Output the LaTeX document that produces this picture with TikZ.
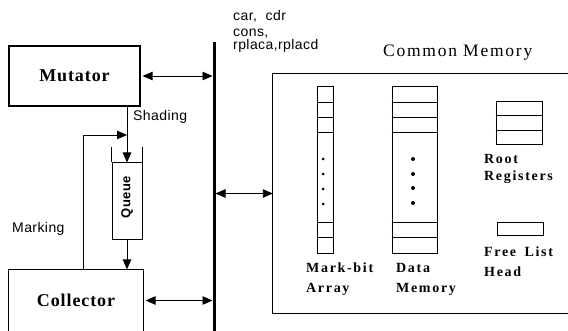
\documentclass[tikz,border=0pt]{standalone}
\usepackage{fontspec}
\setmainfont{Liberation Serif}
\setsansfont{Liberation Sans}
\newfontfamily\spacedserif[LetterSpace=12]{Liberation Serif}
\newfontfamily\titleserif[LetterSpace=10]{Liberation Serif}
\newfontfamily\boxserif[LetterSpace=5]{Liberation Serif}
\newfontfamily\spacedsans[LetterSpace=3]{Liberation Sans}
\usetikzlibrary{arrows.meta}
\begin{document}
\begin{tikzpicture}[x=1pt,y=-1pt,
  blk/.style={draw, line width=1.2pt, inner sep=0pt, font=\boxserif\bfseries\fontsize{18}{20}\selectfont},
  cell/.style={draw, line width=1pt, inner sep=0pt},
  conn/.style={line width=0.9pt},
  arr/.style={conn,-{Triangle[length=10pt,width=8.5pt]}},
  dbl/.style={conn,{Triangle[length=10pt,width=8.5pt]}-{Triangle[length=10pt,width=8.5pt]}},
  sans/.style={font=\spacedsans\fontsize{14}{16}\selectfont, inner sep=0pt, anchor=base west},
  lab/.style={font=\spacedserif\bfseries\fontsize{14}{16}\selectfont, inner sep=0pt, anchor=base west},
]
\useasboundingbox (0,0) rectangle (568,331);

% left blocks
\node[blk, minimum width=131pt, minimum height=60pt] (mut) at (74.5,76) {Mutator};
\node[blk, draw=none, minimum width=134pt, minimum height=61pt] (coll) at (76,300.5) {Collector};
\draw[line width=1.2pt] (coll.south west) |- (coll.north east) -- (coll.south east);

% bus
\coordinate (bustop) at (214,42);
\coordinate (busbot) at (214,331);
\draw[line width=3pt] (bustop) -- (busbot);

% queue
\node[cell, minimum width=30pt, minimum height=77pt] (queue) at (127,201.5) {};
\draw[line width=1pt] (queue.north west) -- ++(0,-15);
\draw[line width=1pt] (queue.north east) -- ++(0,-15);
\node[font=\spacedsans\bfseries\fontsize{13}{15}\selectfont, rotate=90, inner sep=0pt] (qlab) at (127,197) {Queue};

% memory frame
\node[inner sep=0pt, minimum width=295pt, minimum height=239pt] (mem) at (420.5,193.5) {};
\draw[line width=1.2pt] (mem.north east) -- (mem.north west) -- (mem.south west) -- (mem.south east);
\node[font=\titleserif\fontsize{17.5}{19}\selectfont, anchor=base west, inner sep=0pt] (title) at (383,57) {Common Memory};

% connectors
\coordinate (markx) at (83,135);
\coordinate (shadejoin) at (127,135);
\draw[arr] (coll.north -| markx) |- (shadejoin);
\draw[arr] (mut.south -| queue.north) -- (queue.north);
\draw[arr] (queue.south) -- (queue.south |- coll.north);
\draw[dbl, shorten <=2pt, shorten >=1.5pt] (mut.east) -- (mut.east -| bustop);
\draw[dbl, shorten <=2pt, shorten >=1.5pt] (coll.east) -- (coll.east -| bustop);
\draw[dbl, shorten <=1.5pt] (mem.west -| bustop) -- (mem.west);

% mark-bit array
\node[cell, minimum width=16pt, minimum height=167pt] (mba) at (325,170.5) {};
\foreach \yy in {103,118,133,223,238} \draw[line width=1pt] (mba.west |- 0,\yy) -- (mba.east |- 0,\yy);
\foreach \yy in {159,174,189,204} \fill (323,\yy) circle (1.5pt);

% data memory
\node[cell, minimum width=45pt, minimum height=167pt] (dm) at (414.5,170.5) {};
\foreach \yy in {103,118,133,223,238} \draw[line width=1pt] (dm.west |- 0,\yy) -- (dm.east |- 0,\yy);
\foreach \yy in {159,174,188,203} \fill (413,\yy) circle (2pt);

% root registers
\node[cell, minimum width=46pt, minimum height=43pt] (rr) at (519,123.5) {};
\foreach \yy in {116,131} \draw[line width=1pt] (rr.west |- 0,\yy) -- (rr.east |- 0,\yy);

% free list head
\node[cell, minimum width=46pt, minimum height=13pt] (fl) at (520,229.5) {};

% labels
\node[lab] (root) at (484,164) {Root};
\node[lab] (reg) at (484,181) {Registers};
\node[lab] (free) at (484,257) {Free\hspace{0.6em}List};
\node[lab] (head) at (484,277) {Head};
\node[lab] (markbit) at (306,273) {Mark-bit};
\node[lab] (array) at (306,293) {Array};
\node[lab] (data) at (396,273) {Data};
\node[lab] (memory) at (396,293) {Memory};

\node[sans] (ops1) at (233,21) {car,\ \ cdr};
\node[sans] (ops2) at (233,37) {cons,};
\node[sans] (ops3) at (233,50) {rplaca,rplacd};
\node[sans] (shading) at (133,121) {Shading};
\node[sans] (marking) at (12,233) {Marking};
\end{tikzpicture}
\end{document}
